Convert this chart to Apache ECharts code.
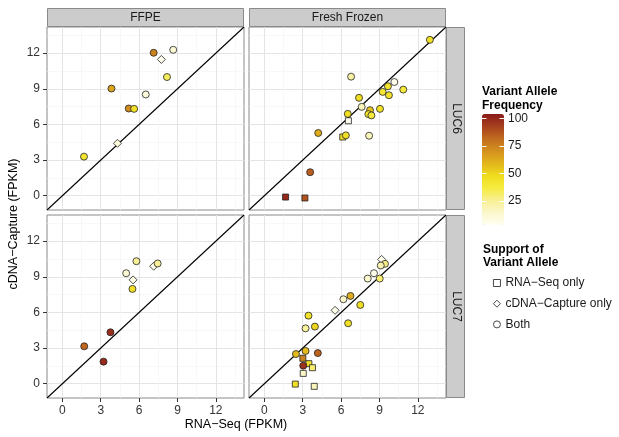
<!DOCTYPE html>
<html><head><meta charset="utf-8">
<script src="https://cdn.jsdelivr.net/npm/echarts@6/dist/echarts.min.js"></script>
<style>html,body{margin:0;padding:0;background:#fff}#c{width:619px;height:437px}</style>
</head><body><div id="c"></div><script>
// ---- data ----
const samples = ['FFPE', 'Fresh Frozen'];           // facet columns
const cellLines = ['LUC6', 'LUC7'];                 // facet rows
const supportLevels = ['RNA−Seq only', 'cDNA−Capture only', 'Both'];
const supportSymbols = ['rect', 'diamond', 'circle'];
const axisTicks = [0, 3, 6, 9, 12];
const minorTicks = [1.5, 4.5, 7.5, 10.5, 13.5];
const vafTicks = [25, 50, 75, 100];
const axisRange = [-1.2, 14.2];
const vafRange = [3, 104];
// [RNA-Seq FPKM, cDNA-Capture FPKM, variant allele frequency %, support index]
const luc6Ffpe = [
  [7.14, 12.03, 75, 2], [8.67, 12.28, 12, 2], [7.74, 11.47, 4, 1], [8.18, 9.99, 33, 2],
  [3.84, 9.02, 65, 2], [6.52, 8.52, 10, 2], [5.19, 7.34, 72, 2], [5.61, 7.31, 45, 2],
  [4.31, 4.41, 10, 1], [1.69, 3.29, 42, 2]
];
const luc6Fresh = [
  [12.94, 13.12, 45, 2], [6.78, 10.02, 22, 2], [10.16, 9.57, 5, 2], [9.66, 9.21, 42, 2],
  [9.25, 8.74, 40, 2], [10.86, 8.93, 38, 2], [9.74, 8.46, 44, 2], [7.40, 8.24, 47, 2],
  [7.61, 7.48, 18, 2], [9.04, 7.31, 45, 2], [8.26, 7.20, 55, 2], [8.13, 6.87, 42, 2],
  [8.37, 6.76, 38, 2], [6.52, 6.89, 46, 2], [6.57, 6.31, 4, 0], [4.21, 5.28, 62, 2],
  [6.13, 4.94, 45, 0], [6.37, 5.08, 45, 2], [8.19, 5.05, 18, 2], [3.58, 1.98, 85, 2],
  [1.66, -0.11, 100, 0], [3.17, -0.19, 88, 0]
];
const luc7Ffpe = [
  [5.79, 10.31, 25, 2], [7.45, 10.12, 25, 2], [7.14, 9.89, 5, 1], [4.99, 9.30, 12, 2],
  [5.53, 8.74, 8, 1], [5.48, 7.98, 45, 2], [3.76, 4.33, 98, 2], [1.71, 3.15, 83, 2],
  [3.22, 1.86, 99, 2]
];
const luc7Fresh = [
  [9.17, 10.46, 4, 1], [9.43, 10.09, 27, 2], [9.10, 9.95, 20, 2], [8.57, 9.30, 5, 2],
  [8.08, 8.85, 14, 2], [9.02, 8.85, 30, 2], [6.73, 7.39, 62, 2], [6.18, 7.11, 15, 2],
  [7.50, 6.63, 46, 2], [5.53, 6.18, 6, 1], [3.45, 5.73, 44, 2], [3.22, 4.66, 24, 2],
  [3.95, 4.81, 50, 2], [6.55, 5.09, 45, 2], [2.47, 2.50, 58, 2], [3.22, 2.76, 57, 2],
  [4.18, 2.58, 84, 2], [3.01, 2.14, 75, 0], [3.04, 1.52, 97, 2], [3.48, 1.69, 45, 0],
  [3.76, 1.35, 30, 0], [3.04, 0.87, 15, 0], [2.42, -0.03, 45, 0], [3.90, -0.22, 18, 0]
];

// ---- layout ----
const FONT = 'Liberation Sans, Arial, Helvetica, sans-serif';
const gridLeft = [47, 249], gridTop = [27, 215], gridW = 197, gridH = 183;
const panels = [
  { row: 0, col: 0, data: luc6Ffpe }, { row: 0, col: 1, data: luc6Fresh },
  { row: 1, col: 0, data: luc7Ffpe }, { row: 1, col: 1, data: luc7Fresh }
];
const symbolSizes = [6, 8, 7];

const grid = [], xAxis = [], yAxis = [], series = [], scatterIdx = [];
panels.forEach((p, i) => {
  grid.push({ left: gridLeft[p.col], top: gridTop[p.row], width: gridW, height: gridH,
    show: true, backgroundColor: '#fff', borderColor: '#8a8a8a', borderWidth: 1, containLabel: false });
  const isBottom = p.row === 1, isLeft = p.col === 0;
  const mainAxis = (showLab, pos) => ({
    type: 'value', gridIndex: i, min: axisRange[0], max: axisRange[1], position: pos,
    axisLine: { show: false, onZero: false },
    axisTick: { show: showLab, customValues: axisTicks, length: 4, lineStyle: { color: '#333', width: 1 } },
    axisLabel: { show: showLab, customValues: axisTicks, margin: 7, color: '#333', fontSize: 12, fontFamily: FONT },
    splitLine: { show: true, lineStyle: { color: '#e4e4e4', width: 1 } }
  });
  const minorAxis = (pos) => ({
    type: 'value', gridIndex: i, min: axisRange[0], max: axisRange[1], position: pos,
    axisLine: { show: false, onZero: false },
    axisTick: { show: false, customValues: minorTicks },
    axisLabel: { show: false, customValues: minorTicks },
    splitLine: { show: true, lineStyle: { color: '#f3f3f3', width: 0.6 } }
  });
  xAxis.push(mainAxis(isBottom, 'bottom'), minorAxis('top'));
  yAxis.push(mainAxis(isLeft, 'left'), minorAxis('right'));
  const ax = 2 * i;
  series.push({
    type: 'line', xAxisIndex: ax, yAxisIndex: ax, silent: true, symbol: 'none', z: 3,
    data: [[axisRange[0], axisRange[0]], [axisRange[1], axisRange[1]]],
    lineStyle: { color: '#000', width: 1.1 }
  });
  supportLevels.forEach((name, s) => {
    scatterIdx.push(series.length);
    series.push({
      type: 'scatter', name: name, xAxisIndex: ax, yAxisIndex: ax, z: 5,
      symbol: supportSymbols[s], symbolSize: symbolSizes[s],
      data: p.data.filter(d => d[3] === s),
      itemStyle: { borderColor: '#222', borderWidth: 0.8, opacity: 1 }
    });
  });
});

// colorbar geometry
const cbLeft = 482, cbTop = 114, cbW = 22, cbH = 111;
const vafY = v => cbTop + (vafRange[1] - v) / (vafRange[1] - vafRange[0]) * cbH;

const graphic = [];
// strips
samples.forEach((s, c) => {
  graphic.push({ type: 'rect', shape: { x: gridLeft[c] + 0.5, y: 8.5, width: gridW - 1, height: 18 },
    style: { fill: '#cccccc', stroke: '#8a8a8a', lineWidth: 1 } });
  graphic.push({ type: 'text', x: gridLeft[c] + gridW / 2, y: 17.5,
    style: { text: s, fill: '#1a1a1a', font: '12px ' + FONT, textAlign: 'center', textVerticalAlign: 'middle' } });
});
cellLines.forEach((s, r) => {
  graphic.push({ type: 'rect', shape: { x: gridLeft[1] + gridW + 0.5, y: gridTop[r] + 0.5, width: 18, height: gridH - 1 },
    style: { fill: '#cccccc', stroke: '#8a8a8a', lineWidth: 1 } });
  graphic.push({ type: 'text', x: gridLeft[1] + gridW + 10, y: gridTop[r] + gridH / 2, rotation: -Math.PI / 2,
    style: { text: s, fill: '#1a1a1a', font: '12px ' + FONT, textAlign: 'center', textVerticalAlign: 'middle' } });
});
// axis titles
graphic.push({ type: 'text', x: 236, y: 425,
  style: { text: 'RNA−Seq (FPKM)', fill: '#000', font: '12.5px ' + FONT, textAlign: 'center', textVerticalAlign: 'middle' } });
graphic.push({ type: 'text', x: 14, y: 224, rotation: Math.PI / 2,
  style: { text: 'cDNA−Capture (FPKM)', fill: '#000', font: '12.5px ' + FONT, textAlign: 'center', textVerticalAlign: 'middle' } });
// legend titles
graphic.push({ type: 'text', x: 482, y: 85,
  style: { text: 'Variant Allele\nFrequency', fill: '#000', font: 'bold 12px ' + FONT, lineHeight: 14, textVerticalAlign: 'top' } });
graphic.push({ type: 'text', x: 483, y: 242.5,
  style: { text: 'Support of\nVariant Allele', fill: '#000', font: 'bold 12px ' + FONT, lineHeight: 13.5, textVerticalAlign: 'top' } });
// colorbar ticks & labels
vafTicks.forEach(v => {
  const y = Math.round(vafY(v)) + 0.5;
  graphic.push({ type: 'line', z: 100, shape: { x1: cbLeft, y1: y, x2: cbLeft + 4.5, y2: y }, style: { stroke: '#fff', lineWidth: 1 } });
  graphic.push({ type: 'line', z: 100, shape: { x1: cbLeft + cbW - 4.5, y1: y, x2: cbLeft + cbW, y2: y }, style: { stroke: '#fff', lineWidth: 1 } });
  graphic.push({ type: 'text', x: cbLeft + cbW + 4, y: vafY(v),
    style: { text: String(v), fill: '#1a1a1a', font: '12px ' + FONT, textVerticalAlign: 'middle' } });
});

const chart = echarts.init(document.getElementById('c'), null, { renderer: 'canvas' });
chart.setOption({
  animation: false,
  backgroundColor: '#fff',
  grid, xAxis, yAxis, series, graphic,
  visualMap: {
    type: 'continuous', min: vafRange[0], max: vafRange[1], dimension: 2, seriesIndex: scatterIdx,
    calculable: false, hoverLink: false, left: cbLeft, top: cbTop, itemWidth: cbW, itemHeight: cbH,
    padding: 0, orient: 'vertical',
    inRange: { color: ['#FFFFF2', '#FBF7CC', '#F8F094', '#F5EB40', '#F0DC1E', '#E2B51C', '#D4911E', '#C16C1F', '#A6401E', '#8A1A1A'] }
  },
  legend: {
    orient: 'vertical', left: 493, top: 276, itemWidth: 7, itemHeight: 7, itemGap: 6.7,
    padding: 0, selectedMode: false,
    textStyle: { fontSize: 12, fontFamily: FONT, color: '#1a1a1a', lineHeight: 14 },
    data: supportLevels.map((n, s) => ({ name: n, icon: supportSymbols[s],
      itemStyle: { color: '#fff', borderColor: '#333', borderWidth: 0.9 } }))
  }
});
</script></body></html>
